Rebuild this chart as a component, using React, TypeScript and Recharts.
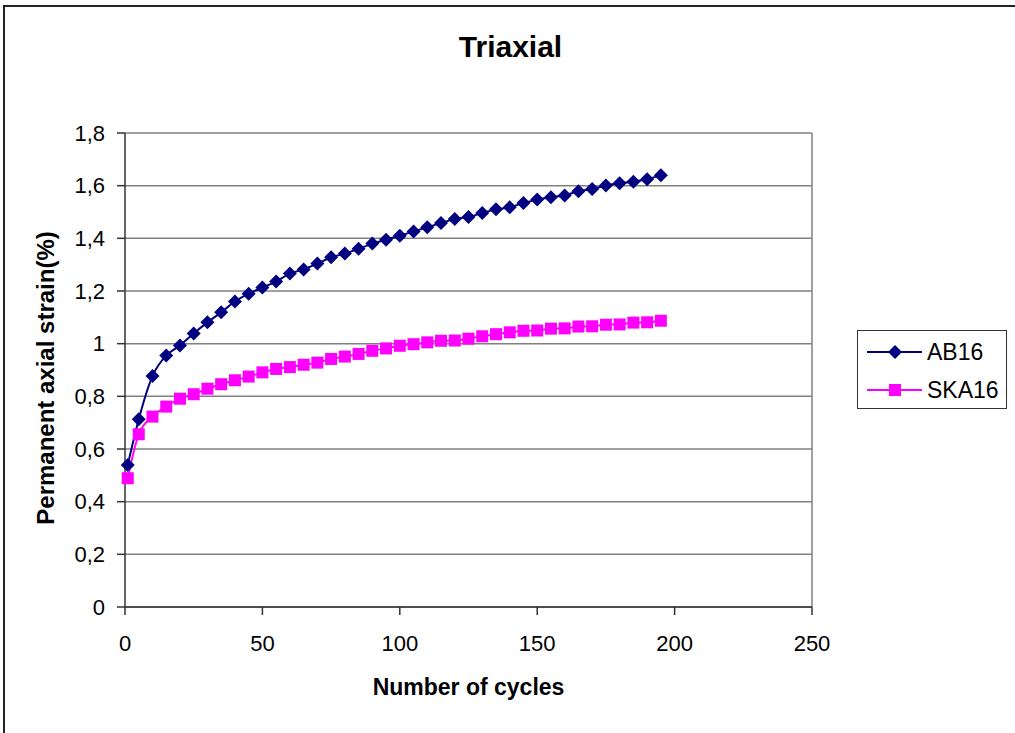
import { LineChart, Line, XAxis, YAxis, CartesianGrid, ReferenceLine } from 'recharts';

const cycles = [
  1, 5, 10, 15, 20, 25, 30, 35, 40, 45, 50, 55, 60, 65, 70, 75, 80, 85, 90, 95, 100,
  105, 110, 115, 120, 125, 130, 135, 140, 145, 150, 155, 160, 165, 170, 175, 180, 185, 190, 195,
];
const ab16 = [
  0.539, 0.713, 0.877, 0.955, 0.993, 1.039, 1.081, 1.119, 1.16, 1.19, 1.213, 1.236, 1.266, 1.282,
  1.304, 1.328, 1.342, 1.36, 1.38, 1.395, 1.41, 1.426, 1.442, 1.458, 1.473, 1.481, 1.496, 1.51,
  1.518, 1.534, 1.547, 1.556, 1.563, 1.579, 1.587, 1.601, 1.609, 1.615, 1.624, 1.64,
];
const ska16 = [
  0.489, 0.656, 0.723, 0.761, 0.791, 0.808, 0.829, 0.846, 0.861, 0.875, 0.891, 0.904, 0.911, 0.92,
  0.928, 0.942, 0.951, 0.961, 0.973, 0.982, 0.992, 0.998, 1.005, 1.011, 1.012, 1.019, 1.028, 1.036,
  1.043, 1.049, 1.05, 1.057, 1.058, 1.065, 1.066, 1.072, 1.073, 1.08, 1.081, 1.087,
];
const xTicks = [0, 50, 100, 150, 200, 250];
const yTicks = [0, 0.2, 0.4, 0.6, 0.8, 1, 1.2, 1.4, 1.6, 1.8];

const FONT = '"Liberation Sans", Arial, sans-serif';
const NAVY = '#000080';
const PINK = '#FF00FF';

const data = cycles.map((c, i) => ({ cycles: c, ab16: ab16[i], ska16: ska16[i] }));

const Diamond = ({ cx, cy, fill }: { cx?: number; cy?: number; fill: string }) => {
  if (cx == null || cy == null) return null;
  const r = 7;
  return <path d={`M${cx},${cy - r}L${cx + r},${cy}L${cx},${cy + r}L${cx - r},${cy}Z`} fill={fill} />;
};

const Square = ({ cx, cy, fill }: { cx?: number; cy?: number; fill: string }) => {
  if (cx == null || cy == null) return null;
  const h = 6;
  return <rect x={cx - h} y={cy - h} width={h * 2} height={h * 2} fill={fill} />;
};

// legend drawn as a plain box so it doesn't eat into the plot area
const LegendBox = () => (
  <div
    style={{
      position: 'absolute',
      left: 857,
      top: 330,
      border: '1.5px solid #333',
      width: 150,
      height: 79,
      boxSizing: 'border-box',
      fontFamily: FONT,
      fontSize: 23,
      background: '#fff',
    }}
  >
    {[
      { name: 'AB16', color: NAVY, shape: 'd' },
      { name: 'SKA16', color: PINK, shape: 's' },
    ].map((it, i) => (
      <div key={it.name} style={{ position: 'absolute', left: 9, top: 9 + i * 38, display: 'flex', alignItems: 'center' }}>
        <svg width={56} height={16}>
          <line x1={0} y1={8} x2={55} y2={8} stroke={it.color} strokeWidth={2} />
          {it.shape === 'd' ? <Diamond cx={28} cy={8} fill={it.color} /> : <Square cx={28} cy={8} fill={it.color} />}
        </svg>
        <span style={{ marginLeft: 4, lineHeight: '24px' }}>{it.name}</span>
      </div>
    ))}
  </div>
);

export default function App() {
  const fmt = (v: number) => String(v).replace('.', ',');
  return (
    <div style={{ position: 'absolute', left: 0, top: 0, width: 1015, height: 733, background: '#fff', overflow: 'hidden' }}>
      <div
        style={{
          position: 'absolute',
          left: 3,
          top: 5,
          width: 1100,
          height: 800,
          borderLeft: '2px solid #222',
          borderTop: '2px solid #222',
        }}
      />
      <div
        style={{
          position: 'absolute',
          left: 0,
          width: 1015,
          top: 30,
          textAlign: 'center',
          fontFamily: FONT,
          fontWeight: 'bold',
          fontSize: 30,
          paddingLeft: 3,
        }}
      >
        Triaxial
      </div>
      <div
        style={{
          position: 'absolute',
          left: 125,
          width: 687,
          top: 674,
          textAlign: 'center',
          fontFamily: FONT,
          fontWeight: 'bold',
          fontSize: 23,
        }}
      >
        Number of cycles
      </div>
      <div
        style={{
          position: 'absolute',
          left: 46,
          top: 378,
          width: 400,
          textAlign: 'center',
          fontFamily: FONT,
          fontWeight: 'bold',
          fontSize: 24,
          transform: 'translate(-50%, -50%) rotate(-90deg)',
        }}
      >
        Permanent axial strain(%)
      </div>
      <div style={{ position: 'absolute', left: 0, top: 0 }}>
        <LineChart width={1015} height={733} data={data} margin={{ top: 133, right: 203, bottom: 86, left: 25 }}>
          <CartesianGrid horizontal vertical={false} stroke="#808080" strokeWidth={1.5} />
          <ReferenceLine x={250} stroke="#808080" strokeWidth={1.5} />
          <XAxis
            dataKey="cycles"
            type="number"
            domain={[0, 250]}
            ticks={xTicks}
            height={40}
            stroke="#333"
            strokeWidth={1.5}
            tickSize={8}
            tickMargin={20}
            tick={{ fill: '#000', fontSize: 22, fontFamily: FONT }}
          />
          <YAxis
            type="number"
            domain={[0, 1.8]}
            ticks={yTicks}
            width={100}
            stroke="#333"
            strokeWidth={1.5}
            tickSize={8}
            tickMargin={12}
            tickFormatter={fmt}
            tick={{ fill: '#000', fontSize: 22, fontFamily: FONT }}
          />
          <Line
            type="monotone"
            dataKey="ab16"
            name="AB16"
            stroke={NAVY}
            strokeWidth={2}
            dot={(p: any) => <Diamond key={`a${p.index}`} cx={p.cx} cy={p.cy} fill={NAVY} />}
            activeDot={false}
            isAnimationActive={false}
          />
          <Line
            type="monotone"
            dataKey="ska16"
            name="SKA16"
            stroke={PINK}
            strokeWidth={2}
            dot={(p: any) => <Square key={`s${p.index}`} cx={p.cx} cy={p.cy} fill={PINK} />}
            activeDot={false}
            isAnimationActive={false}
          />
        </LineChart>
      </div>
      <LegendBox />
    </div>
  );
}
